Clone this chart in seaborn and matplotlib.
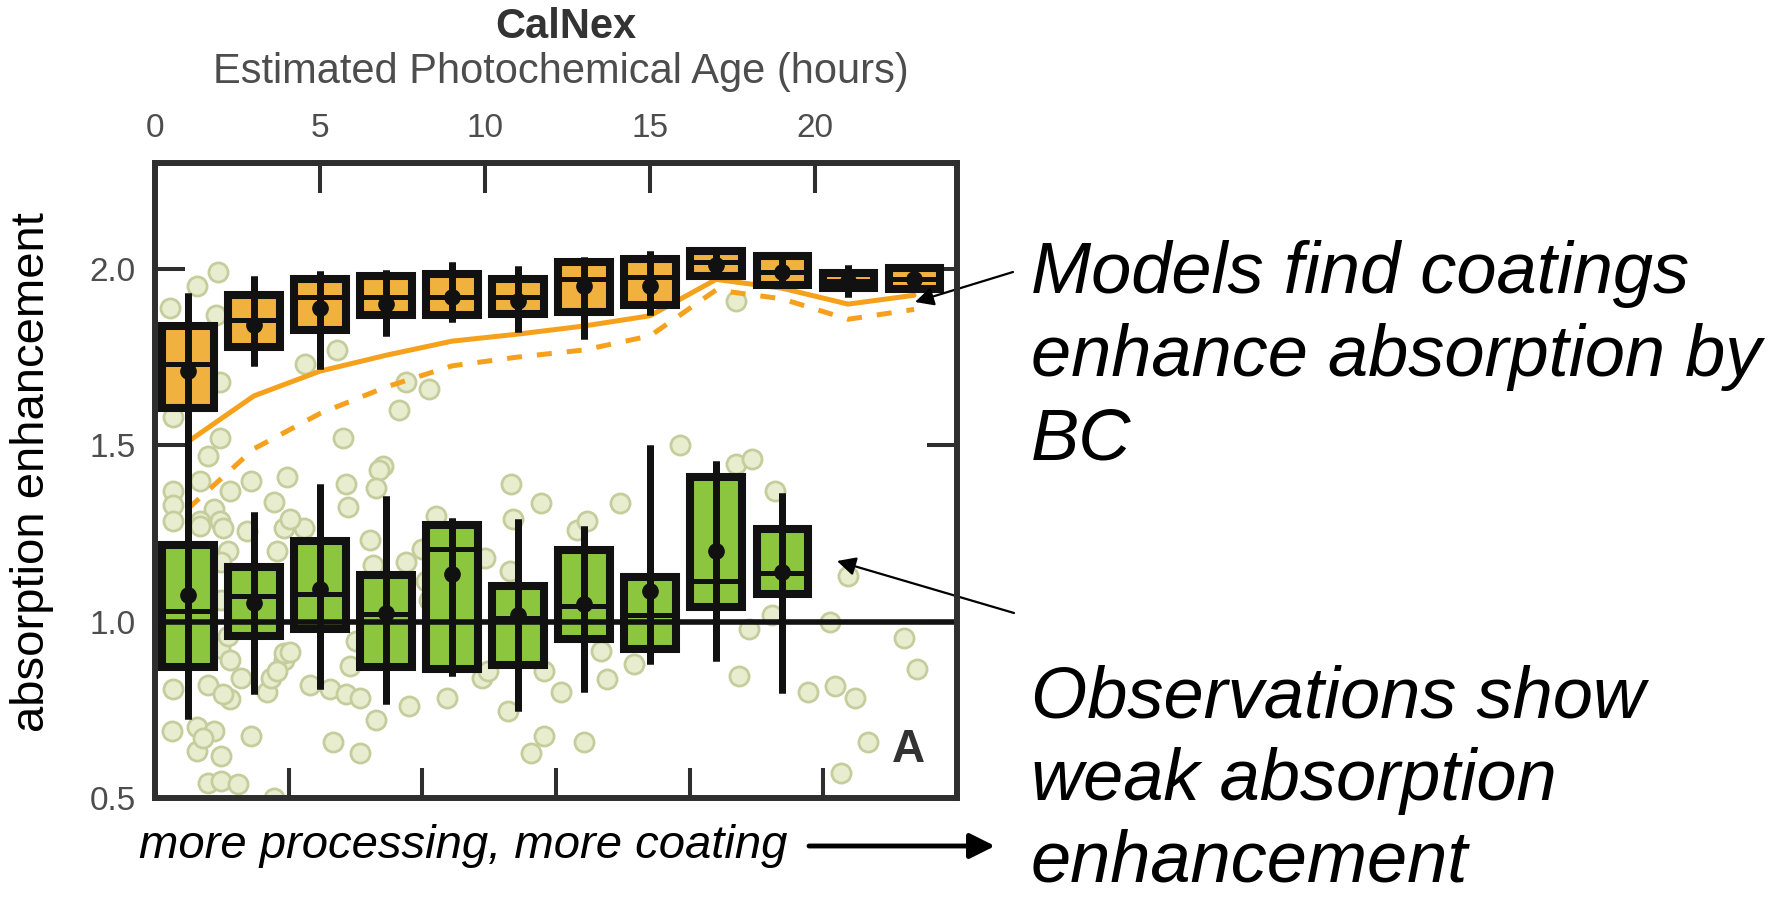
import matplotlib
matplotlib.use("Agg")
import matplotlib.pyplot as plt
import seaborn as sns

# ---------------- data ----------------
# photochemical age bins (hours)
model_age = [1, 3, 5, 7, 9, 11, 13, 15, 17, 19, 21, 23]
obs_age = [1, 3, 5, 7, 9, 11, 13, 15, 17, 19]

# modelled absorption enhancement, box statistics per age bin
model_whislo = [1.40, 1.725, 1.716, 1.81, 1.85, 1.82, 1.80, 1.87, 1.98, 1.955, 1.92, 1.94]
model_q1 = [1.606, 1.779, 1.827, 1.87, 1.87, 1.873, 1.878, 1.898, 1.98, 1.955, 1.946, 1.944]
model_med = [1.73, 1.855, 1.92, 1.92, 1.92, 1.92, 1.97, 1.977, 2.02, 1.99, 1.965, 1.97]
model_q3 = [1.838, 1.926, 1.97, 1.98, 1.986, 1.97, 2.02, 2.028, 2.05, 2.035, 1.988, 2.003]
model_whishi = [1.932, 1.98, 1.994, 1.996, 2.02, 2.008, 2.034, 2.05, 2.05, 2.047, 2.01, 2.01]
model_mean = [1.71, 1.84, 1.89, 1.90, 1.92, 1.91, 1.95, 1.95, 2.01, 1.99, 1.965, 1.97]

# observed absorption enhancement, box statistics per age bin
obs_whislo = [0.724, 0.795, 0.81, 0.767, 0.846, 0.747, 0.80, 0.88, 0.889, 0.797]
obs_q1 = [0.871, 0.96, 0.98, 0.871, 0.866, 0.877, 0.95, 0.923, 1.042, 1.079]
obs_med = [1.03, 1.073, 1.078, 1.022, 1.206, 1.01, 1.044, 1.02, 1.115, 1.138]
obs_q3 = [1.217, 1.155, 1.229, 1.132, 1.274, 1.10, 1.203, 1.127, 1.41, 1.263]
obs_whishi = [1.45, 1.31, 1.39, 1.356, 1.294, 1.29, 1.27, 1.50, 1.455, 1.365]
obs_mean = [1.075, 1.053, 1.093, 1.025, 1.135, 1.02, 1.05, 1.087, 1.20, 1.14]

# model curves (two mixing-state assumptions)
curve_solid = [1.51, 1.64, 1.71, 1.755, 1.795, 1.815, 1.838, 1.867, 1.97, 1.945, 1.90, 1.925]
curve_dashed = [1.32, 1.49, 1.59, 1.665, 1.725, 1.75, 1.77, 1.81, 1.94, 1.915, 1.857, 1.885]

# individual observations
pts_age = [1.91, 1.27, 0.45, 1.85, 1.97, 0.55, 1.97, 1.6, 4.55, 5.5, 5.7, 7.4, 7.6, 8.3,
           6.9, 4.0, 2.9, 1.36, 0.55, 2.27, 3.6, 1.8, 1.97, 1.36, 0.55, 5.8, 5.85, 6.8,
           6.7, 3.9, 4.5, 4.1, 0.55, 10.8, 11.7, 10.85, 8.5, 8.1, 7.6, 6.5, 6.6, 10.75,
           10.0, 12.8, 13.1, 14.1, 15.9, 17.6, 18.1, 18.8, 21.0, 20.45, 18.7, 18.0, 22.7,
           23.1, 20.6, 21.2, 19.8, 17.7, 21.6, 20.8, 14.5, 13.7, 12.3, 10.7, 11.8, 11.4,
           13.0, 13.5, 11.8, 17.6,
           0.55, 1.6, 2.27, 3.4, 0.5, 1.27, 1.8, 1.27, 2.0, 2.9, 1.6, 2.0, 2.5, 3.6, 4.7,
           5.3, 5.8, 6.2, 5.4, 6.2, 6.7, 7.7, 8.85, 9.9, 1.97, 3.9, 3.5, 1.45, 2.06, 3.7,
           3.9, 2.6, 1.36, 2.06, 2.8, 2.2, 3.7, 2.0, 2.0, 2.2, 2.27, 4.1, 6.1, 5.9, 8.2,
           8.3, 10.1]
pts_val = [1.99, 1.95, 1.89, 1.87, 1.68, 1.58, 1.52, 1.47, 1.73, 1.77, 1.52, 1.60, 1.68, 1.66,
           1.44, 1.41, 1.40, 1.40, 1.37, 1.37, 1.34, 1.32, 1.285, 1.285, 1.33, 1.39, 1.325, 1.43,
           1.38, 1.265, 1.265, 1.29, 1.285, 1.39, 1.337, 1.29, 1.30, 1.206, 1.17, 1.23, 1.16, 1.144,
           1.18, 1.26, 1.285, 1.337, 1.50, 1.447, 1.46, 1.37, 1.13, 1.00, 1.02, 0.98, 0.954,
           0.866, 0.818, 0.784, 0.80, 0.846, 0.66, 0.57, 0.88, 0.838, 0.80, 0.747, 0.676, 0.628,
           0.66, 0.917, 0.86, 1.91,
           0.81, 0.82, 0.78, 0.80, 0.69, 0.70, 0.69, 0.633, 0.62, 0.675, 0.543, 0.548, 0.54, 0.50, 0.82,
           0.81, 0.795, 0.784, 0.66, 0.628, 0.72, 0.76, 0.784, 0.84, 0.925, 0.89, 0.84, 0.67, 0.795, 0.86,
           0.91, 0.84, 1.27, 1.266, 1.257, 1.20, 1.20, 1.17, 1.06, 0.96, 0.89, 0.915, 0.945, 0.875, 1.115,
           1.06, 0.86]

top_ticks = [0, 5, 10, 15, 20]
y_ticks = [0.5, 1.0, 1.5, 2.0]
y_ticklabels = ["0.5", "1.0", "1.5", "2.0"]

# ---------------- style ----------------
sns.set_theme(style="white")
plt.rcParams["font.family"] = ["Liberation Sans", "DejaVu Sans"]

INK = "#111111"
FRAME = "#2e2e2e"
GREY_TXT = "#4d4d4d"
ORANGE_BOX = "#f0b13f"
ORANGE_LINE = "#f5a11c"
GREEN_BOX = "#8cc63f"

W, H = 1781, 900
fig = plt.figure(figsize=(W / 100, H / 100), dpi=100)
ax = fig.add_axes([155 / W, 102 / H, 802 / W, 635 / H])

# scattered observations
sns.scatterplot(x=pts_age, y=pts_val, ax=ax, s=190, color="#e8edd0",
                edgecolor="#c6cd9c", linewidth=2.0, zorder=1, legend=False)

# model curves
sns.lineplot(x=model_age, y=curve_solid, ax=ax, color=ORANGE_LINE, linewidth=3.6,
             errorbar=None, zorder=2)
sns.lineplot(x=model_age, y=curve_dashed, ax=ax, color=ORANGE_LINE, linewidth=3.6,
             errorbar=None, zorder=2)
ax.lines[-1].set_linestyle((0, (3.0, 3.0)))


def make_stats(age, lo, q1, med, q3, hi, mean):
    return [dict(label=str(a), whislo=l, q1=b, med=m, q3=c, whishi=h, mean=mn, fliers=[])
            for a, l, b, m, c, h, mn in zip(age, lo, q1, med, q3, hi, mean)]


def draw_boxes(age, lo, q1, med, q3, hi, mean, face):
    stats = make_stats(age, lo, q1, med, q3, hi, mean)
    parts = ax.bxp(stats, positions=age, widths=1.55, patch_artist=True,
                   showmeans=True, showcaps=False, showfliers=False, manage_ticks=False,
                   boxprops=dict(facecolor=face, edgecolor=INK, linewidth=5.8,
                                 joinstyle="miter"),
                   whiskerprops=dict(color=INK, linewidth=5, solid_capstyle="butt"),
                   medianprops=dict(color=INK, linewidth=3.6, solid_capstyle="butt"),
                   meanprops=dict(marker="o", markerfacecolor=INK, markeredgecolor=INK,
                                  markersize=11))
    for b in parts["boxes"]:
        b.set_zorder(3)
    for w in parts["whiskers"]:
        w.set_zorder(3)
    for m in parts["medians"]:
        m.set_zorder(4)
    for m in parts["means"]:
        m.set_zorder(6)
    # whisker line continues through the box
    ax.vlines(age, lo, hi, color=INK, linewidth=5, zorder=3.5)


draw_boxes(model_age, model_whislo, model_q1, model_med, model_q3, model_whishi,
           model_mean, ORANGE_BOX)
draw_boxes(obs_age, obs_whislo, obs_q1, obs_med, obs_q3, obs_whishi, obs_mean, GREEN_BOX)

# unity reference line
ax.axhline(1.0, color=INK, linewidth=4, zorder=5)

# ---------------- axes ----------------
ax.set_xlim(0, 24.3)
ax.set_ylim(0.5, 2.3)
ax.set_xlabel("")
ax.set_ylabel("")

for sp in ax.spines.values():
    sp.set_visible(True)
    sp.set_linewidth(4.3)
    sp.set_color(FRAME)
    sp.set_zorder(7)

ax.set_xticks(top_ticks)
ax.set_xticklabels([str(t) for t in top_ticks])
ax.tick_params(axis="x", top=True, bottom=False, labeltop=True, labelbottom=False,
               direction="in", length=21.6, width=2.9, color=FRAME, pad=14,
               labelsize=24, labelcolor=GREY_TXT)
ax.set_yticks(y_ticks)
ax.set_yticklabels(y_ticklabels)
ax.tick_params(axis="y", left=True, right=True, labelleft=True, labelright=False,
               direction="in", length=21.6, width=2.9, color=FRAME, pad=14,
               labelsize=24, labelcolor=GREY_TXT)

# unlabeled secondary scale on the bottom edge
sec = ax.secondary_xaxis("bottom", functions=(lambda h: h / 4.05, lambda u: u * 4.05))
sec.set_xticks([1, 2, 3, 4, 5])
sec.set_xticklabels([])
sec.tick_params(direction="in", length=21.6, width=2.9, color=FRAME)
sec.spines["bottom"].set_visible(False)

# panel letter
ax.text((908 - 155) / 802, (798 - 762) / 635, "A", transform=ax.transAxes, ha="center",
        va="baseline", fontsize=33, fontweight="bold", color="#333333", zorder=8)

# ---------------- titles and labels ----------------
fig.text(566 / W, 1 - 38 / H, "CalNex", ha="center", va="baseline", fontsize=30,
         fontweight="bold", color="#333333")
fig.text(561 / W, 1 - 83 / H, "Estimated Photochemical Age (hours)", ha="center",
         va="baseline", fontsize=30, color=GREY_TXT)
fig.text(32 / W, 1 - 472 / H, "absorption enhancement", ha="center", va="center",
         rotation=90, fontsize=34, color="black")

# ---------------- annotations ----------------
for txt, base in [("Models find coatings", 293), ("enhance absorption by", 376), ("BC", 459),
                  ("Observations show", 718), ("weak absorption", 800), ("enhancement", 882)]:
    fig.text(1031 / W, 1 - base / H, txt, ha="left", va="baseline", fontsize=52,
             fontstyle="italic", color="black")

fig.text(139 / W, 1 - 858 / H, "more processing, more coating", ha="left", va="baseline",
         fontsize=34, fontstyle="italic", color="black")

ax.annotate("", xy=(995 / W, 1 - 846 / H), xycoords="figure fraction",
            xytext=(809 / W, 1 - 846 / H), textcoords="figure fraction",
            arrowprops=dict(arrowstyle="-|>", color="black", lw=3.5, mutation_scale=38,
                            shrinkA=0, shrinkB=0), annotation_clip=False)
ax.annotate("", xy=(915 / W, 1 - 302 / H), xycoords="figure fraction",
            xytext=(1013 / W, 1 - 272 / H), textcoords="figure fraction",
            arrowprops=dict(arrowstyle="-|>", color="black", lw=1.6, mutation_scale=28,
                            shrinkA=0, shrinkB=0), annotation_clip=False)
ax.annotate("", xy=(837 / W, 1 - 561 / H), xycoords="figure fraction",
            xytext=(1014 / W, 1 - 613 / H), textcoords="figure fraction",
            arrowprops=dict(arrowstyle="-|>", color="black", lw=1.6, mutation_scale=28,
                            shrinkA=0, shrinkB=0), annotation_clip=False)

fig.savefig("out.png", dpi=100, facecolor="white")
